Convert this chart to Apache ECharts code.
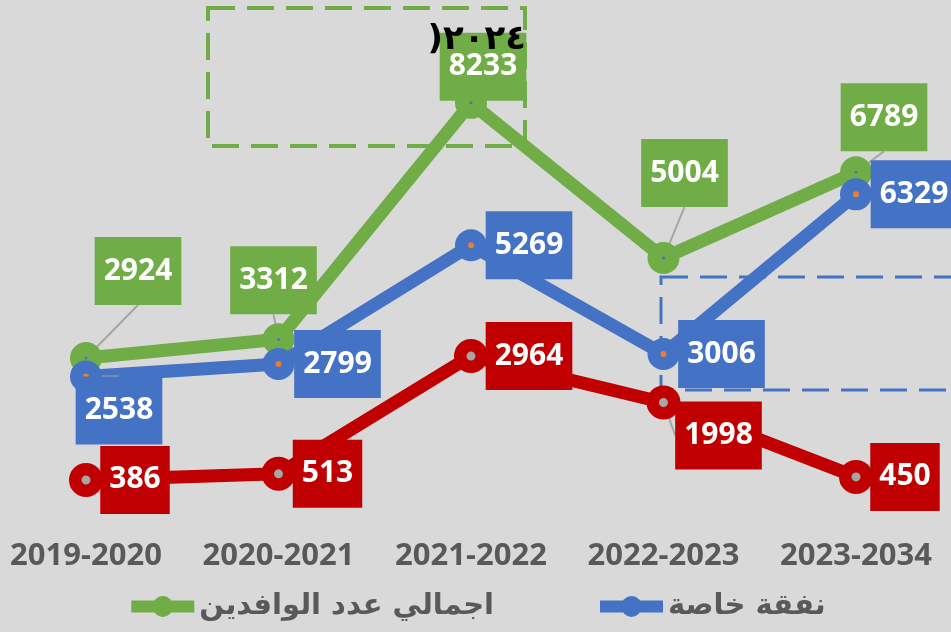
<!DOCTYPE html>
<html>
<head>
<meta charset="utf-8">
<script src="https://cdn.jsdelivr.net/npm/echarts@6/dist/echarts.min.js"></script>
<style>
  html, body { margin: 0; padding: 0; background: #d9d9d9; }
  #chart { width: 951px; height: 632px; }
</style>
</head>
<body>
<div id="chart"></div>
<script>
const categories = ['2019-2020', '2020-2021', '2021-2022', '2022-2023', '2023-2034'];
const totalArrivals = [2924, 3312, 8233, 5004, 6789];
const privateExpense = [2538, 2799, 5269, 3006, 6329];
const otherExpense = [386, 513, 2964, 1998, 450];

const seriesNames = ['اجمالي عدد الوافدين', 'نفقة خاصة', 'نفقة أخرى'];

// label box offsets from each point (dx, dy), per series
const labelShift = [
  [[52, -87], [-5, -59], [12, -36], [21, -85], [28, -55]],
  [[33, 34], [59, 0], [58, 0], [58, 0], [58, 0]],
  [[49, 0], [49, 0], [58, 0], [55, 33], [49, 0]]
];

const chart = echarts.init(document.getElementById('chart'));

function makeSeries(name, data, color, center, size, border, z) {
  return {
    name,
    type: 'line',
    data,
    z,
    color,
    symbol: 'circle',
    symbolSize: size,
    lineStyle: { color, width: 13 },
    itemStyle: { color: center, borderColor: color, borderWidth: border },
    label: {
      show: true,
      position: 'inside',
      color: '#fff',
      fontFamily: 'Noto Sans',
      fontWeight: 'bold',
      fontSize: 30,
      lineHeight: 30,
      backgroundColor: color,
      padding: [19, 9]
    },
    labelLine: {
      show: true,
      lineStyle: { color: '#a6a6a6', width: 2 }
    },
    emphasis: { disabled: true }
  };
}

chart.setOption({
  backgroundColor: '#d9d9d9',
  animation: false,
  grid: { left: 86, right: 95, top: 66, bottom: 133.5 },
  xAxis: {
    type: 'category',
    data: categories,
    boundaryGap: false,
    axisLine: { show: false },
    axisTick: { show: false },
    axisLabel: {
      interval: 0,
      hideOverlap: false,
      color: '#595959',
      fontFamily: 'Noto Sans',
      fontWeight: 'bold',
      fontSize: 31,
      margin: 42
    }
  },
  yAxis: {
    type: 'value',
    min: 0,
    max: 9000,
    show: false
  },
  legend: {
    data: [
      {
        name: seriesNames[0],
        itemStyle: { color: '#70ad47', borderWidth: 0 },
        lineStyle: { color: '#70ad47', width: 12 }
      },
      {
        name: seriesNames[1],
        itemStyle: { color: '#4472c4', borderWidth: 0 },
        lineStyle: { color: '#4472c4', width: 12 }
      }
    ],
    bottom: 6,
    left: 'center',
    itemWidth: 63,
    itemHeight: 26,
    itemGap: 100,
    textStyle: {
      color: '#595959',
      fontFamily: 'DejaVu Sans',
      fontWeight: 'bold',
      fontSize: 29
    }
  },
  labelLayout: function (params) {
    const s = labelShift[params.seriesIndex][params.dataIndex];
    return { dx: s[0], dy: s[1] };
  },
  graphic: [
    {
      type: 'rect',
      z: 1,
      shape: { x: 208, y: 8, width: 317, height: 138 },
      style: { fill: 'none', stroke: '#70ad47', lineWidth: 4, lineDash: [27, 12] }
    },
    {
      type: 'rect',
      z: 1,
      shape: { x: 661, y: 277, width: 320, height: 113 },
      style: { fill: 'none', stroke: '#4472c4', lineWidth: 3, lineDash: [27, 12] }
    },
    {
      type: 'text',
      z: 100,
      x: 526,
      y: 40,
      style: {
        text: ')٢٠٢٤',
        align: 'right',
        verticalAlign: 'middle',
        fill: '#000',
        font: 'bold 34px "DejaVu Sans"'
      }
    }
  ],
  series: [
    makeSeries(seriesNames[0], totalArrivals, '#70ad47', '#4472c4', 17.5, 14.5, 2),
    makeSeries(seriesNames[1], privateExpense, '#4472c4', '#ed7d31', 19, 13, 3),
    makeSeries(seriesNames[2], otherExpense, '#c00000', '#a6a6a6', 21.5, 12.5, 4)
  ]
});
</script>
</body>
</html>
